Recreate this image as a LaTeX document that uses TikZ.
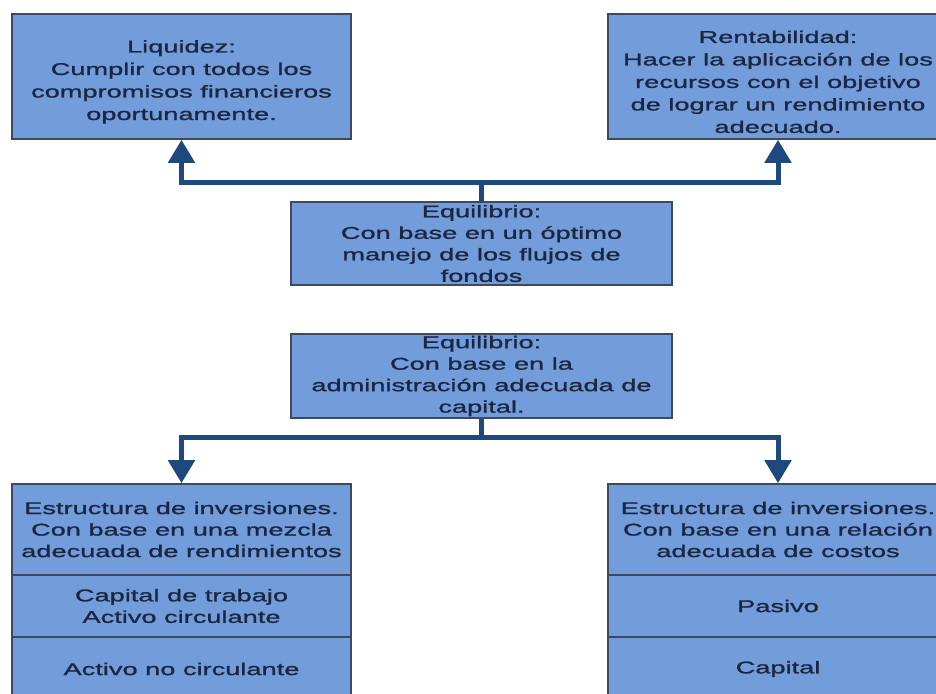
\documentclass[tikz,border=0pt]{standalone}
\usepackage{fontspec}
\setmainfont{Liberation Sans}[FakeStretch=1.6,FakeBold=1.2]
\usetikzlibrary{arrows.meta}
\definecolor{boxfill}{RGB}{114,157,218}
\definecolor{boxline}{RGB}{62,72,94}
\definecolor{arrowc}{RGB}{31,73,125}
\definecolor{txt}{RGB}{26,38,66}
\newcommand{\topgap}{\rule{0pt}{23pt}}
\begin{document}
\begin{tikzpicture}[x=1pt,y=-1pt,
  box/.style={draw=boxline, line width=1.6pt, fill=boxfill, inner sep=0pt,
    align=center, text=txt, font=\fontsize{17}{21.5}\selectfont},
  topbox/.style={box, font=\fontsize{17}{22.5}\selectfont},
  conn/.style={draw=arrowc, line width=5pt},
  arr/.style={conn, -{Triangle[width=26pt,length=23pt]}}]
\useasboundingbox (0,0) rectangle (936,693);
\fill[white] (0,0) rectangle (936,693);
\clip (0,0) rectangle (936,693);

% top row
\node[topbox, minimum width=339pt, minimum height=125pt] (liq) at (181.5,76.5)
  {\topgap Liquidez:\\Cumplir con todos los\\compromisos financieros\\oportunamente.};
\node[topbox, minimum width=340pt, minimum height=125pt] (rent) at (778,76.5)
  {\topgap Rentabilidad:\\Hacer la aplicación de los\\recursos con el objetivo\\de lograr un rendimiento\\adecuado.};

% middle boxes
\node[box, minimum width=381pt, minimum height=83pt] (eq1) at (481.5,243.5)
  {Equilibrio:\\Con base en un óptimo\\manejo de los flujos de\\fondos};
\node[box, minimum width=381pt, minimum height=84pt] (eq2) at (481.5,376)
  {Equilibrio:\\Con base en la\\administración adecuada de\\capital.};

% bottom left stack
\node[box, minimum width=339pt, minimum height=91pt] (inv1) at (181.5,529.5)
  {Estructura de inversiones.\\Con base en una mezcla\\adecuada de rendimientos};
\node[box, minimum width=339pt, minimum height=62pt] (inv2) at (181.5,606)
  {Capital de trabajo\\Activo circulante};
\node[box, minimum width=339pt, minimum height=64pt] (inv3) at (181.5,669)
  {Activo no circulante};

% bottom right stack
\node[box, minimum width=340pt, minimum height=91pt] (fin1) at (778,529.5)
  {Estructura de inversiones.\\Con base en una relación\\adecuada de costos};
\node[box, minimum width=340pt, minimum height=62pt] (fin2) at (778,606)
  {Pasivo};
\node[box, minimum width=340pt, minimum height=64pt] (fin3) at (778,669)
  {Capital};

% connectors
\coordinate (j1) at (481.5,182);
\coordinate (j2) at (481.5,437);
\draw[conn] (eq1.north) -- (j1);
\draw[arr] (j1) -| (liq.south);
\draw[arr] (j1) -| (rent.south);
\draw[conn] (eq2.south) -- (j2);
\draw[arr] (j2) -| (inv1.north);
\draw[arr] (j2) -| (fin1.north);
\end{tikzpicture}
\end{document}
